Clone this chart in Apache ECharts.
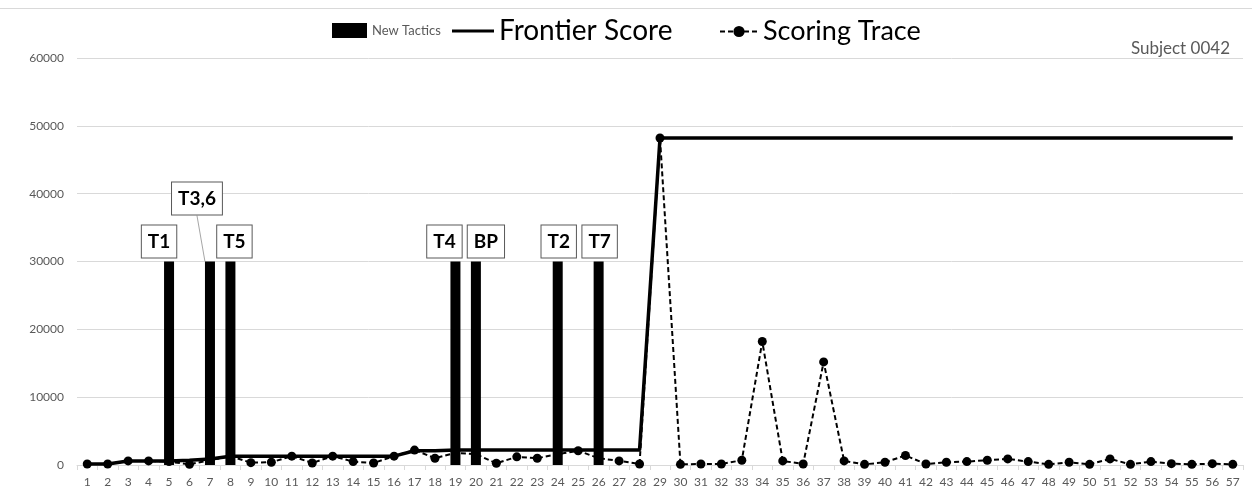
<!DOCTYPE html>
<html>
<head>
<meta charset="utf-8">
<script src="https://cdn.jsdelivr.net/npm/echarts@6/dist/echarts.min.js"></script>
<style>html,body{margin:0;padding:0;background:#fff;}#chart{width:1252px;height:492px;}</style>
</head>
<body>
<div id="chart"></div>
<script>
const categories = ['1','2','3','4','5','6','7','8','9','10','11','12','13','14','15','16','17','18','19','20','21','22','23','24','25','26','27','28','29','30','31','32','33','34','35','36','37','38','39','40','41','42','43','44','45','46','47','48','49','50','51','52','53','54','55','56','57'];

// New Tactics bars (value 30000 where a tactic appears)
const tacticCats   = ['5','7','8','19','20','24','26'];
const tacticLabels = ['T1','T3,6','T5','T4','BP','T2','T7'];
const tacticHeight = 30000;

const frontierScore = [150,150,600,600,600,700,900,1300,1300,1300,1300,1300,1300,1300,1300,1300,2100,2100,2200,2200,2200,2200,2200,2200,2200,2200,2200,2200,48200,48200,48200,48200,48200,48200,48200,48200,48200,48200,48200,48200,48200,48200,48200,48200,48200,48200,48200,48200,48200,48200,48200,48200,48200,48200,48200,48200,48200];

const scoringTrace = [150,150,600,600,500,100,700,1300,350,400,1300,300,1300,500,300,1300,2200,1000,1800,1600,250,1200,1000,1600,2100,1000,600,150,48200,100,150,150,700,18200,600,150,15200,600,100,400,1400,150,400,500,700,900,500,100,400,100,900,100,500,200,100,200,100];

const yTicks = [0,10000,20000,30000,40000,50000,60000];

// label placement nudges (style, not data)
const labelNudge = {'T1':[-10,0],'T3,6':[-13,-43],'T5':[4,0],'T4':[-11,0],'BP':[10,0],'T2':[1,0],'T7':[1,0]};

const FONT = 'Lato, "Liberation Sans", sans-serif';

const barData = categories.map(c => {
  const i = tacticCats.indexOf(c);
  if (i < 0) return null;
  const name = tacticLabels[i];
  const item = {value: tacticHeight, labelText: name};
  if (name === 'T3,6') {
    item.labelLine = {show: true, lineStyle: {color: '#a6a6a6', width: 1}};
  }
  return item;
});

const chart = echarts.init(document.getElementById('chart'));
chart.setOption({
  animation: false,
  backgroundColor: '#fff',
  textStyle: {fontFamily: FONT},
  title: {
    text: 'Subject 0042', right: 17, top: 35,
    textStyle: {fontFamily: FONT, fontSize: 17, fontWeight: 'normal', color: '#595959'}
  },
  graphic: [{
    type: 'line', shape: {x1: 0, y1: 8.5, x2: 1252, y2: 8.5},
    style: {stroke: '#d9d9d9', lineWidth: 1}, silent: true
  }],
  legend: [
    {data: [{name: 'New Tactics', icon: 'rect'}], left: 332, top: 23, padding: 0, itemWidth: 35, itemHeight: 15,
     textStyle: {fontFamily: FONT, fontSize: 13, color: '#595959'}},
    {data: [{name: 'Frontier Score', icon: 'rect'}], left: 452, top: 17, padding: 0, itemWidth: 42, itemHeight: 3,
     textStyle: {fontFamily: FONT, fontSize: 28, color: '#000'}},
    {data: ['Scoring Trace'], left: 719, top: 18, padding: 0, itemWidth: 38, itemHeight: 14,
     textStyle: {fontFamily: FONT, fontSize: 27, color: '#000'}}
  ],
  grid: {left: 77, right: 9, top: 58, bottom: 27},
  xAxis: {
    type: 'category', data: categories, boundaryGap: true,
    axisLine: {lineStyle: {color: '#d9d9d9', width: 1}},
    axisTick: {show: true, alignWithLabel: false, length: 5, lineStyle: {color: '#d9d9d9'}},
    axisLabel: {color: '#595959', fontSize: 12, fontFamily: FONT, interval: 0, margin: 11}
  },
  yAxis: {
    type: 'value', min: yTicks[0], max: yTicks[yTicks.length-1], interval: yTicks[1]-yTicks[0],
    axisLine: {show: false}, axisTick: {show: false},
    axisLabel: {color: '#595959', fontSize: 12, fontFamily: FONT, margin: 13, formatter: v => String(v)},
    splitLine: {lineStyle: {color: '#d9d9d9', width: 1}}
  },
  series: [
    {
      name: 'New Tactics', type: 'bar', data: barData, barWidth: 10,
      itemStyle: {color: '#000'}, z: 3,
      label: {
        show: true, position: 'top', distance: 4,
        formatter: p => p.data ? p.data.labelText : '',
        backgroundColor: '#fff', borderColor: '#595959', borderWidth: 1,
        padding: [5, 6, 5, 6], color: '#000', fontSize: 19, fontWeight: 'bold', fontFamily: FONT,
        lineHeight: 22
      },
      labelLine: {show: false},
      labelLayout: function (params) {
        const d = barData[params.dataIndex];
        if (!d) return {};
        const n = labelNudge[d.labelText] || [0,0];
        return {dx: n[0], dy: n[1]};
      }
    },
    {
      name: 'Frontier Score', type: 'line', data: frontierScore,
      symbol: 'none', showSymbol: false,
      lineStyle: {color: '#000', width: 3.5, type: 'solid'}, itemStyle: {color: '#000'}, z: 2
    },
    {
      name: 'Scoring Trace', type: 'line', data: scoringTrace,
      symbol: 'circle', symbolSize: 9, showSymbol: true,
      lineStyle: {color: '#000', width: 2, type: [5, 3]}, itemStyle: {color: '#000'}, z: 4
    }
  ]
});
</script>
</body>
</html>
